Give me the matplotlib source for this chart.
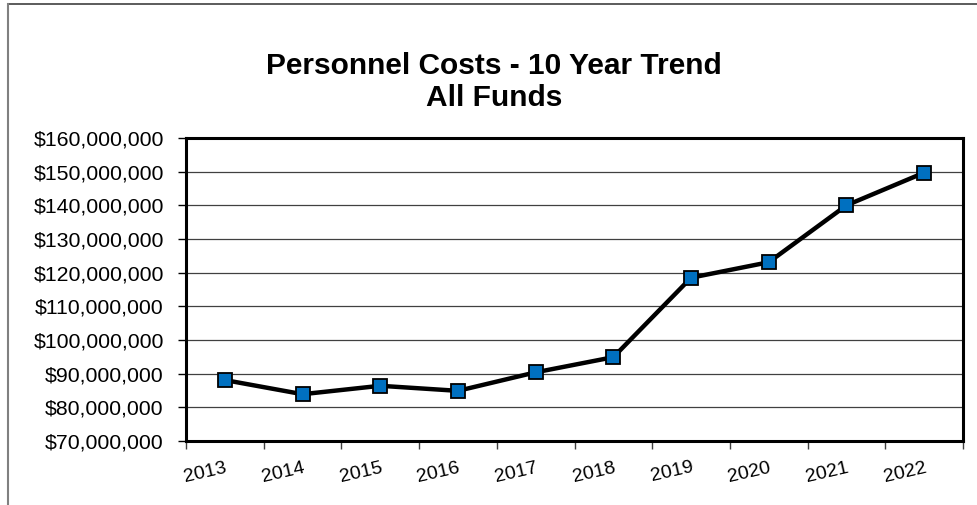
import matplotlib.pyplot as plt
from matplotlib.lines import Line2D
from matplotlib.ticker import FuncFormatter, MultipleLocator

plt.rcParams["font.family"] = ["Liberation Sans", "DejaVu Sans"]

years = ["2013", "2014", "2015", "2016", "2017",
         "2018", "2019", "2020", "2021", "2022"]
costs = [88.1e6, 83.9e6, 86.4e6, 84.9e6, 90.4e6,
         94.9e6, 118.5e6, 123.1e6, 140.0e6, 149.7e6]

W, H = 977, 505
fig = plt.figure(figsize=(W / 100, H / 100), dpi=100)

# plot area in pixels: left 186, right 963, top 138, bottom 441
ax = fig.add_axes([186 / W, 1 - 441 / H, (963 - 186) / W, (441 - 138) / H])

x = list(range(len(years)))
ax.plot(x, costs, color="black", linewidth=3.2, zorder=3,
        marker="s", markersize=10, markerfacecolor="#0070C0",
        markeredgecolor="black", markeredgewidth=1.3)

ax.set_xlim(-0.5, len(years) - 0.5)
ax.set_ylim(70e6, 160e6)
ax.yaxis.set_major_locator(MultipleLocator(10e6))
ax.yaxis.set_major_formatter(FuncFormatter(lambda v, p: f"${v:,.0f}"))
ax.grid(axis="y", color="#404040", linewidth=0.9, zorder=1)

# category boundaries carry the tick marks, labels sit under each category
ax.set_xticks([i - 0.5 for i in range(len(years) + 1)])
ax.set_xticklabels([])
ax.set_xticks(x, minor=True)
ax.set_xticklabels(years, minor=True, rotation=13, ha="right",
                   rotation_mode="anchor", fontsize=14)
ax.tick_params(axis="x", which="minor", length=0, pad=13)
ax.tick_params(axis="x", which="major", length=6, width=1, color="#404040")
ax.tick_params(axis="y", length=6, width=1, labelsize=15.3, pad=10)

for s in ax.spines.values():
    s.set_linewidth(2.2)
    s.set_color("black")

fig.text(494 / W, 1 - 82 / H, "Personnel Costs - 10 Year Trend\nAll Funds",
         ha="center", va="center", fontsize=21.5, fontweight="bold",
         linespacing=1.2)

# outer chart frame: only top and left edges are visible
fig.add_artist(Line2D([8 / W, 1], [1 - 4 / H, 1 - 4 / H], color="#404040",
                      linewidth=1.2, transform=fig.transFigure))
fig.add_artist(Line2D([8 / W, 8 / W], [0, 1 - 4 / H], color="#808080",
                      linewidth=1.5, transform=fig.transFigure))

fig.savefig("out.png", dpi=100)
